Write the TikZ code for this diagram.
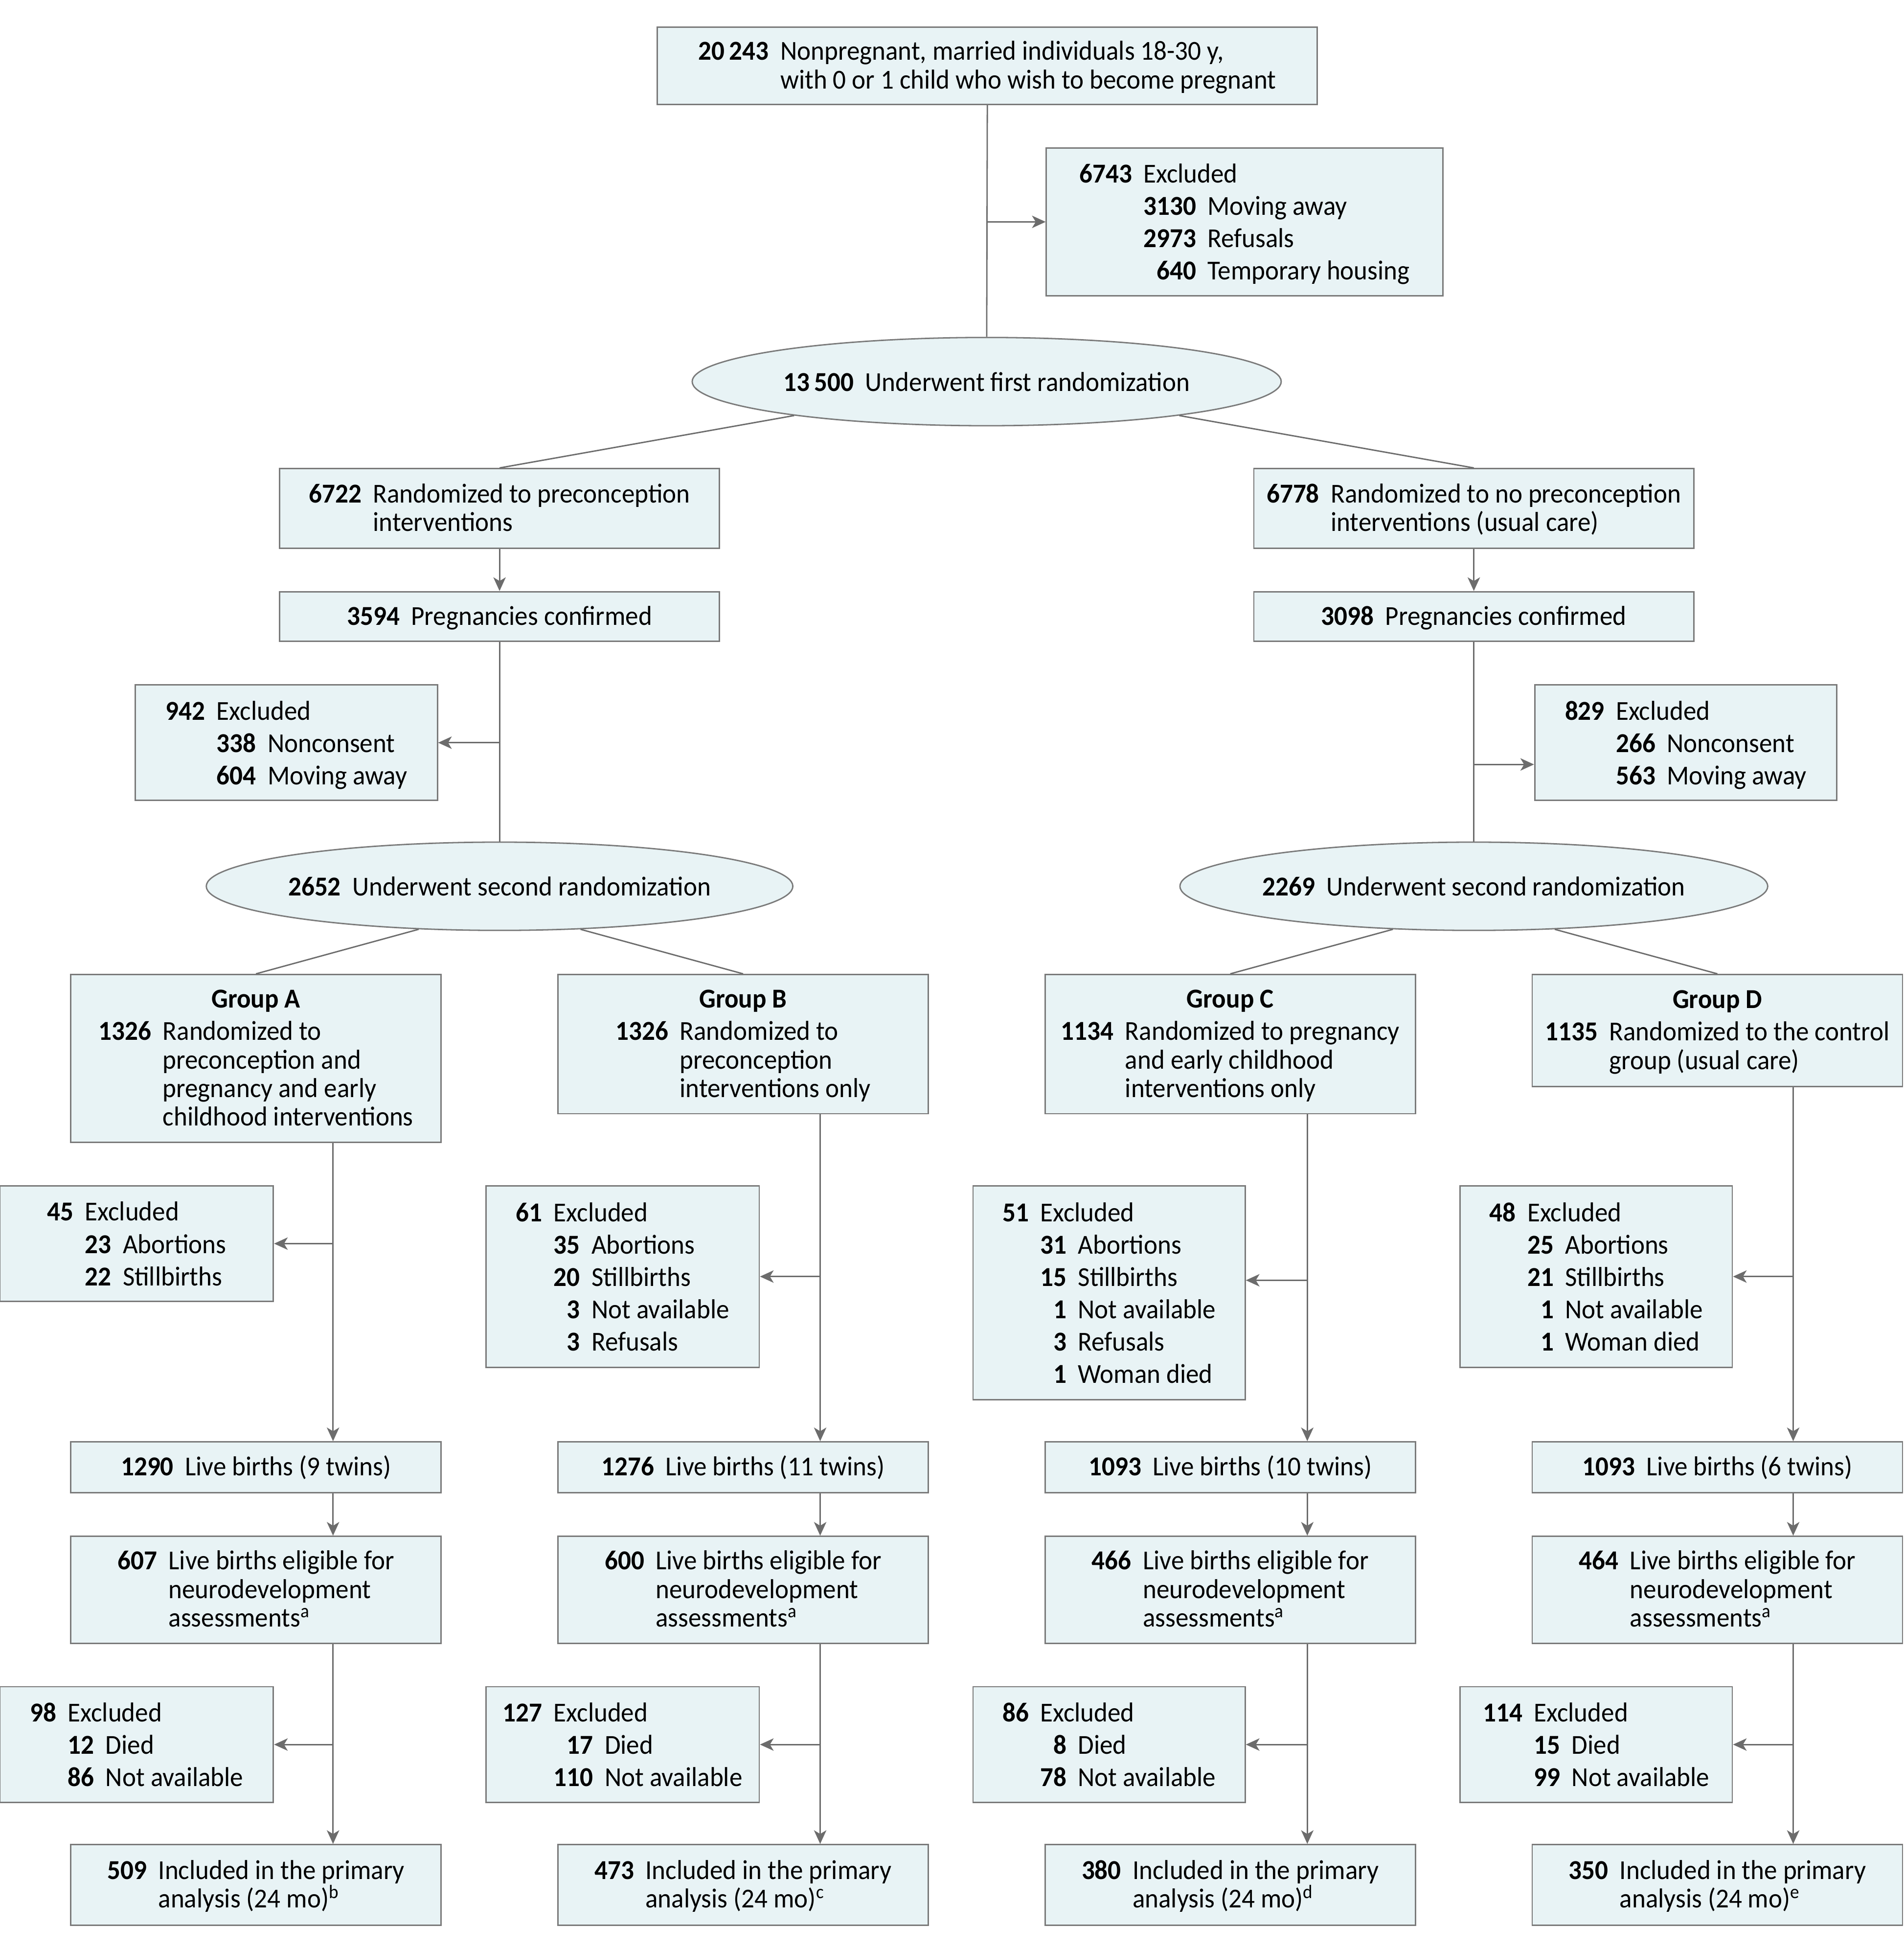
\documentclass[tikz,border=0pt]{standalone}
\usepackage{fontspec}
\setmainfont{Carlito}[FakeStretch=0.95]
\usetikzlibrary{shapes.geometric,arrows.meta,calc}
\definecolor{boxfill}{RGB}{232,243,245}
\definecolor{boxline}{RGB}{122,122,122}
\definecolor{conn}{RGB}{108,108,108}
\newcommand\myfs{\fontsize{22}{23}\selectfont\setbox\strutbox\hbox{\vrule height18.3pt depth4.7pt width0pt}}
\newcommand\gap{\hspace{0.42em}}
\newcommand\nt[2]{\begin{tabular}{@{}r@{\gap}l@{}}\textbf{#1}&#2\end{tabular}}
\newcommand\itm[2]{\\&\textbf{#1}&#2}
\newcommand\ex[2]{\renewcommand\arraystretch{1.13}\begin{tabular}{@{}r@{\gap}r@{\gap}l@{}}\textbf{#1}&\multicolumn{2}{@{}l@{}}{Excluded}#2\end{tabular}}
\newcommand\grp[3]{\begin{tabular}{@{}r@{\gap}l@{}}\multicolumn{2}{@{}c@{}}{\textbf{Group #1}}\\[3pt]\textbf{#2}&#3\end{tabular}}
\newcommand\bx[6]{\node[box,minimum width={#4-#2},minimum height={#5-#3}] (#1) at ({(#2+#4)/2},{(#3+#5)/2}) {#6};}
\begin{document}
\begin{tikzpicture}[x=1pt,y=-1pt,
  box/.style={draw=boxline,fill=boxfill,line width=1.1pt,inner sep=0pt,font=\myfs},
  ell/.style={ellipse,draw=boxline,fill=boxfill,line width=1.1pt,inner xsep=-40pt,inner ysep=0pt,font=\myfs},
  conn/.style={draw=conn,line width=1.1pt},
  arr/.style={conn,-{Stealth[length=11pt,width=10pt,inset=3pt]}}]
\useasboundingbox (0,0) rectangle (1532,1568);
% top
\bx{top}{529}{22}{1060}{84}{\nt{20\,243}{Nonpregnant, married individuals 18-30 y,\\&with 0 or 1 child who wish to become pregnant}}
\bx{ex0}{842}{119}{1161}{238}{\ex{6743}{\itm{3130}{Moving away}\itm{2973}{Refusals}\itm{640}{Temporary housing}}}
\node[ell,minimum width=474,minimum height=71] (e1) at (794,307) {\textbf{13\,500}\gap Underwent first randomization};
% arms
\bx{p1}{225}{377}{579}{441}{\nt{6722}{Randomized to preconception\\&interventions}}
\bx{q1}{1009}{377}{1363}{441}{\nt{6778}{Randomized to no preconception\\&interventions (usual care)}}
\bx{p2}{225}{476}{579}{516}{\nt{3594}{Pregnancies confirmed}}
\bx{q2}{1009}{476}{1363}{516}{\nt{3098}{Pregnancies confirmed}}
\bx{exL}{109}{551}{352}{644}{\ex{942}{\itm{338}{Nonconsent}\itm{604}{Moving away}}}
\bx{exR}{1235}{551}{1478}{644}{\ex{829}{\itm{266}{Nonconsent}\itm{563}{Moving away}}}
\node[ell,minimum width=472,minimum height=71] (e2) at (402,713) {\textbf{2652}\gap Underwent second randomization};
\node[ell,minimum width=473,minimum height=71] (e3) at (1186,713) {\textbf{2269}\gap Underwent second randomization};
% groups
\bx{gA}{57}{784}{355}{919}{\grp{A}{1326}{Randomized to\\&preconception and\\&pregnancy and early\\&childhood interventions}}
\bx{gB}{449}{784}{747}{896}{\grp{B}{1326}{Randomized to\\&preconception\\&interventions only}}
\bx{gC}{841}{784}{1139}{896}{\grp{C}{1134}{Randomized to pregnancy\\&and early childhood\\&interventions only}}
\bx{gD}{1233}{784}{1531}{874}{\grp{D}{1135}{Randomized to the control\\&group (usual care)}}
% first exclusions
\bx{xA}{0}{954}{220}{1047}{\ex{45}{\itm{23}{Abortions}\itm{22}{Stillbirths}}}
\bx{xB}{391}{954}{611}{1100}{\ex{61}{\itm{35}{Abortions}\itm{20}{Stillbirths}\itm{3}{Not available}\itm{3}{Refusals}}}
\bx{xC}{783}{954}{1002}{1126}{\ex{51}{\itm{31}{Abortions}\itm{15}{Stillbirths}\itm{1}{Not available}\itm{3}{Refusals}\itm{1}{Woman died}}}
\bx{xD}{1175}{954}{1394}{1100}{\ex{48}{\itm{25}{Abortions}\itm{21}{Stillbirths}\itm{1}{Not available}\itm{1}{Woman died}}}
% live births
\bx{lA}{57}{1160}{355}{1201}{\nt{1290}{Live births (9 twins)}}
\bx{lB}{449}{1160}{747}{1201}{\nt{1276}{Live births (11 twins)}}
\bx{lC}{841}{1160}{1139}{1201}{\nt{1093}{Live births (10 twins)}}
\bx{lD}{1233}{1160}{1531}{1201}{\nt{1093}{Live births (6 twins)}}
% eligible
\bx{vA}{57}{1236}{355}{1322}{\nt{607}{Live births eligible for\\&neurodevelopment\\&assessments\textsuperscript{a}}}
\bx{vB}{449}{1236}{747}{1322}{\nt{600}{Live births eligible for\\&neurodevelopment\\&assessments\textsuperscript{a}}}
\bx{vC}{841}{1236}{1139}{1322}{\nt{466}{Live births eligible for\\&neurodevelopment\\&assessments\textsuperscript{a}}}
\bx{vD}{1233}{1236}{1531}{1322}{\nt{464}{Live births eligible for\\&neurodevelopment\\&assessments\textsuperscript{a}}}
% second exclusions
\bx{yA}{0}{1357}{220}{1450}{\ex{98}{\itm{12}{Died}\itm{86}{Not available}}}
\bx{yB}{391}{1357}{611}{1450}{\ex{127}{\itm{17}{Died}\itm{110}{Not available}}}
\bx{yC}{783}{1357}{1002}{1450}{\ex{86}{\itm{8}{Died}\itm{78}{Not available}}}
\bx{yD}{1175}{1357}{1394}{1450}{\ex{114}{\itm{15}{Died}\itm{99}{Not available}}}
% final
\bx{fA}{57}{1484}{355}{1549}{\nt{509}{Included in the primary\\&analysis (24 mo)\textsuperscript{b}}}
\bx{fB}{449}{1484}{747}{1549}{\nt{473}{Included in the primary\\&analysis (24 mo)\textsuperscript{c}}}
\bx{fC}{841}{1484}{1139}{1549}{\nt{380}{Included in the primary\\&analysis (24 mo)\textsuperscript{d}}}
\bx{fD}{1233}{1484}{1531}{1549}{\nt{350}{Included in the primary\\&analysis (24 mo)\textsuperscript{e}}}
% guide coordinates
\coordinate (cA) at (268,0);
\coordinate (cB) at (660,0);
\coordinate (cC) at (1052,0);
\coordinate (cD) at (1443,0);
\coordinate (hR) at (0,615);
\coordinate (hC) at (0,1030);
% connectors top
\draw[conn] (top.south) -- (e1.north);
\draw[arr] (top.south |- ex0.west) -- (ex0.west);
\draw[conn] (e1.190) -- (p1.north);
\draw[conn] (e1.350) -- (q1.north);
\draw[arr] (p1.south) -- (p2.north);
\draw[arr] (q1.south) -- (q2.north);
\draw[conn] (p2.south) -- (e2.north);
\draw[conn] (q2.south) -- (e3.north);
\draw[arr] (p2.south |- exL.east) -- (exL.east);
\draw[arr] (q2.south |- hR) -- (exR.west |- hR);
\draw[conn] (e2.208) -- (gA.north);
\draw[conn] (e2.332) -- (gB.north);
\draw[conn] (e3.208) -- (gC.north);
\draw[conn] (e3.332) -- (gD.north);
% group columns
\foreach \g in {A,B,C,D}{
  \draw[arr] (c\g |- g\g.south) -- (c\g |- l\g.north);
  \draw[arr] (c\g |- l\g.south) -- (c\g |- v\g.north);
  \draw[arr] (c\g |- v\g.south) -- (c\g |- f\g.north);
  \draw[arr] (c\g |- y\g.east) -- (y\g.east);
}
\draw[arr] (cA |- xA.east) -- (xA.east);
\draw[arr] (cB |- xB.east) -- (xB.east);
\draw[arr] (cC |- hC) -- (xC.east |- hC);
\draw[arr] (cD |- xD.east) -- (xD.east);
\end{tikzpicture}
\end{document}
